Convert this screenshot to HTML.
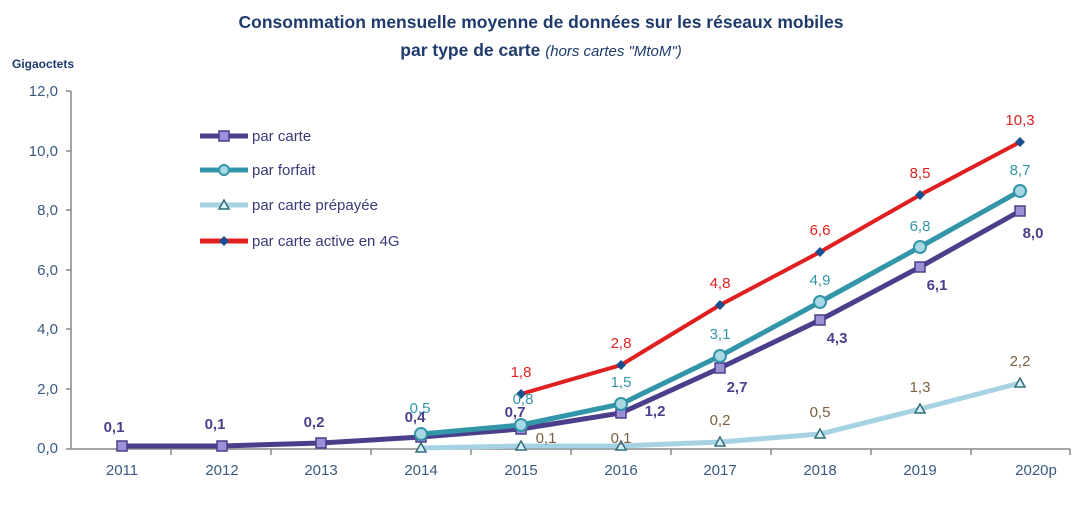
<!DOCTYPE html>
<html><head><meta charset="utf-8"><style>
body{margin:0;background:#fff;width:1083px;height:502px;overflow:hidden}
text{font-family:"Liberation Sans",sans-serif}
</style></head><body>
<svg width="1083" height="502" viewBox="0 0 1083 502">
<text x="541" y="28" text-anchor="middle" font-size="17.5" font-weight="bold" fill="#1f3b6b">Consommation  mensuelle moyenne de données sur les réseaux mobiles</text>
<text x="541" y="56" text-anchor="middle" font-size="17.5" font-weight="bold" fill="#1f3b6b">par type de carte <tspan font-weight="normal" font-style="italic" font-size="15">(hors cartes "MtoM")</tspan></text>
<text x="12" y="68" font-size="12" font-weight="bold" fill="#1f3b6b">Gigaoctets</text>
<g font-size="15" fill="#3a5a80" text-anchor="end">
<text x="58" y="96">12,0</text><text x="58" y="156">10,0</text><text x="58" y="215">8,0</text><text x="58" y="275">6,0</text><text x="58" y="334">4,0</text><text x="58" y="394">2,0</text><text x="58" y="453">0,0</text>
</g>
<g stroke="#888" stroke-width="1.5" fill="none">
<line x1="71" y1="91" x2="71" y2="449"/>
<line x1="71" y1="449" x2="1070" y2="449"/>
<path d="M66 91H71M66 151H71M66 210H71M66 270H71M66 329H71M66 389H71M66 449H71"/>
<path d="M171 449V455M271 449V455M371 449V455M471 449V455M571 449V455M671 449V455M771 449V455M871 449V455M971 449V455M1070 449V455"/>
</g>
<g font-size="15" fill="#3a5a80" text-anchor="middle">
<text x="122" y="475">2011</text><text x="222" y="475">2012</text><text x="321" y="475">2013</text><text x="421" y="475">2014</text><text x="521" y="475">2015</text><text x="621" y="475">2016</text><text x="720" y="475">2017</text><text x="820" y="475">2018</text><text x="920" y="475">2019</text><text x="1036" y="475">2020p</text>
</g>
<polyline points="421,448 521,446 621,446 720,442 820,434 920,409 1020,383" fill="none" stroke="#a6d3e3" stroke-width="5"/>
<g fill="#d9eef5" stroke="#2f6e7a" stroke-width="1.5">
<path d="M421,443 l-5,9 h10z"/><path d="M521,441 l-5,9 h10z"/><path d="M621,441 l-5,9 h10z"/><path d="M720,437 l-5,9 h10z"/><path d="M820,429 l-5,9 h10z"/><path d="M920,404 l-5,9 h10z"/><path d="M1020,378 l-5,9 h10z"/>
</g>
<polyline points="122,446 222,446 321,443 421,437 521,429 621,413 720,368 820,320 920,267 1020,211" fill="none" stroke="#4b3f8c" stroke-width="5"/>
<g fill="#9b8fd6" stroke="#4b3f8c" stroke-width="1.5">
<rect x="117" y="441" width="10" height="10"/><rect x="217" y="441" width="10" height="10"/><rect x="316" y="438" width="10" height="10"/><rect x="416" y="432" width="10" height="10"/><rect x="516" y="424" width="10" height="10"/><rect x="616" y="408" width="10" height="10"/><rect x="715" y="363" width="10" height="10"/><rect x="815" y="315" width="10" height="10"/><rect x="915" y="262" width="10" height="10"/><rect x="1015" y="206" width="10" height="10"/>
</g>
<polyline points="421,434 521,425 621,404 720,356 820,302 920,247 1020,191" fill="none" stroke="#3395a8" stroke-width="5"/>
<g fill="#a8d8e4" stroke="#3395a8" stroke-width="2">
<circle cx="421" cy="434" r="6"/><circle cx="521" cy="425" r="6"/><circle cx="621" cy="404" r="6"/><circle cx="720" cy="356" r="6"/><circle cx="820" cy="302" r="6"/><circle cx="920" cy="247" r="6"/><circle cx="1020" cy="191" r="6"/>
</g>
<polyline points="521,394 621,365 720,305 820,252 920,195 1020,142" fill="none" stroke="#e02020" stroke-width="4"/>
<g fill="#1a4f8f">
<path d="M521,389l5,5-5,5-5-5z"/><path d="M621,360l5,5-5,5-5-5z"/><path d="M720,300l5,5-5,5-5-5z"/><path d="M820,247l5,5-5,5-5-5z"/><path d="M920,190l5,5-5,5-5-5z"/><path d="M1020,137l5,5-5,5-5-5z"/>
</g>
<line x1="200" y1="136" x2="248" y2="136" stroke="#4b3f8c" stroke-width="5"/><rect x="219" y="131" width="10" height="10" fill="#9b8fd6" stroke="#4b3f8c" stroke-width="1.5"/>
<line x1="200" y1="170" x2="248" y2="170" stroke="#3395a8" stroke-width="5"/><circle cx="224" cy="170" r="5" fill="#a8d8e4" stroke="#3395a8" stroke-width="2"/>
<line x1="200" y1="205" x2="248" y2="205" stroke="#a6d3e3" stroke-width="5"/><path d="M224,200 l-5,9 h10z" fill="#d9eef5" stroke="#2f6e7a" stroke-width="1.5"/>
<line x1="200" y1="241" x2="248" y2="241" stroke="#e02020" stroke-width="5"/><path d="M224,236l5,5-5,5-5-5z" fill="#1a4f8f"/>
<g font-size="15" fill="#3a3a7a">
<text x="252" y="141">par carte</text><text x="252" y="175">par forfait</text><text x="252" y="210">par carte prépayée</text><text x="252" y="246">par carte active en 4G</text>
</g>
<g font-size="15" font-weight="bold" fill="#4b3f8c" text-anchor="middle">
<text x="114" y="432">0,1</text><text x="215" y="429">0,1</text><text x="314" y="427">0,2</text><text x="415" y="422">0,4</text><text x="515" y="417">0,7</text><text x="655" y="416">1,2</text><text x="737" y="392">2,7</text><text x="837" y="343">4,3</text><text x="937" y="290">6,1</text><text x="1033" y="238">8,0</text>
</g>
<g font-size="15" fill="#3395a8" text-anchor="middle">
<text x="420" y="413">0,5</text><text x="523" y="404">0,8</text><text x="621" y="387">1,5</text><text x="720" y="339">3,1</text><text x="820" y="285">4,9</text><text x="920" y="231">6,8</text><text x="1020" y="175">8,7</text>
</g>
<g font-size="15" fill="#7a6040" text-anchor="middle">
<text x="546" y="443">0,1</text><text x="621" y="443">0,1</text><text x="720" y="425">0,2</text><text x="820" y="417">0,5</text><text x="920" y="392">1,3</text><text x="1020" y="366">2,2</text>
</g>
<g font-size="15" fill="#e02020" text-anchor="middle">
<text x="521" y="377">1,8</text><text x="621" y="348">2,8</text><text x="720" y="288">4,8</text><text x="820" y="235">6,6</text><text x="920" y="178">8,5</text><text x="1020" y="125">10,3</text>
</g>
</svg>
</body></html>
